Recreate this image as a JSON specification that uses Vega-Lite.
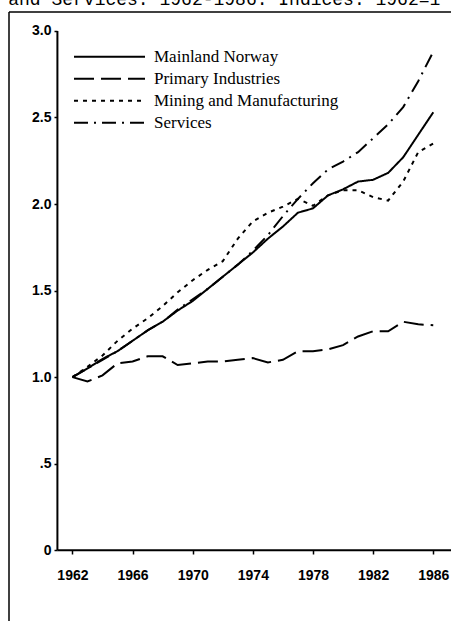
{
  "$schema": "https://vega.github.io/schema/vega-lite/v6.json",
  "width": 451,
  "height": 621,
  "autosize": {"type": "fit", "contains": "padding"},
  "padding": {"left": 8, "top": -9, "right": -27, "bottom": -20},
  "background": "white",
  "title": {
    "text": "and Services. 1962-1986. Indices. 1962=1",
    "anchor": "start",
    "font": "Liberation Mono",
    "fontSize": 18,
    "fontWeight": "normal",
    "color": "black",
    "offset": 2
  },
  "config": {
    "view": {"stroke": null}
  },
  "datasets": {
    "gdp": [
      {"year": 1962, "series": "Mainland Norway", "value": 1.00},
      {"year": 1963, "series": "Mainland Norway", "value": 1.05},
      {"year": 1964, "series": "Mainland Norway", "value": 1.105},
      {"year": 1965, "series": "Mainland Norway", "value": 1.15},
      {"year": 1966, "series": "Mainland Norway", "value": 1.21},
      {"year": 1967, "series": "Mainland Norway", "value": 1.27},
      {"year": 1968, "series": "Mainland Norway", "value": 1.32},
      {"year": 1969, "series": "Mainland Norway", "value": 1.385},
      {"year": 1970, "series": "Mainland Norway", "value": 1.44},
      {"year": 1971, "series": "Mainland Norway", "value": 1.51},
      {"year": 1972, "series": "Mainland Norway", "value": 1.58},
      {"year": 1973, "series": "Mainland Norway", "value": 1.65},
      {"year": 1974, "series": "Mainland Norway", "value": 1.72},
      {"year": 1975, "series": "Mainland Norway", "value": 1.80},
      {"year": 1976, "series": "Mainland Norway", "value": 1.87},
      {"year": 1977, "series": "Mainland Norway", "value": 1.95},
      {"year": 1978, "series": "Mainland Norway", "value": 1.975},
      {"year": 1979, "series": "Mainland Norway", "value": 2.05},
      {"year": 1980, "series": "Mainland Norway", "value": 2.085},
      {"year": 1981, "series": "Mainland Norway", "value": 2.13},
      {"year": 1982, "series": "Mainland Norway", "value": 2.14},
      {"year": 1983, "series": "Mainland Norway", "value": 2.18},
      {"year": 1984, "series": "Mainland Norway", "value": 2.27},
      {"year": 1985, "series": "Mainland Norway", "value": 2.40},
      {"year": 1986, "series": "Mainland Norway", "value": 2.53},
      {"year": 1962, "series": "Primary Industries", "value": 1.00},
      {"year": 1963, "series": "Primary Industries", "value": 0.975},
      {"year": 1964, "series": "Primary Industries", "value": 1.01},
      {"year": 1965, "series": "Primary Industries", "value": 1.08},
      {"year": 1966, "series": "Primary Industries", "value": 1.09},
      {"year": 1967, "series": "Primary Industries", "value": 1.12},
      {"year": 1968, "series": "Primary Industries", "value": 1.12},
      {"year": 1969, "series": "Primary Industries", "value": 1.07},
      {"year": 1970, "series": "Primary Industries", "value": 1.08},
      {"year": 1971, "series": "Primary Industries", "value": 1.09},
      {"year": 1972, "series": "Primary Industries", "value": 1.09},
      {"year": 1973, "series": "Primary Industries", "value": 1.10},
      {"year": 1974, "series": "Primary Industries", "value": 1.11},
      {"year": 1975, "series": "Primary Industries", "value": 1.085},
      {"year": 1976, "series": "Primary Industries", "value": 1.10},
      {"year": 1977, "series": "Primary Industries", "value": 1.15},
      {"year": 1978, "series": "Primary Industries", "value": 1.15},
      {"year": 1979, "series": "Primary Industries", "value": 1.16},
      {"year": 1980, "series": "Primary Industries", "value": 1.185},
      {"year": 1981, "series": "Primary Industries", "value": 1.235},
      {"year": 1982, "series": "Primary Industries", "value": 1.265},
      {"year": 1983, "series": "Primary Industries", "value": 1.265},
      {"year": 1984, "series": "Primary Industries", "value": 1.32},
      {"year": 1985, "series": "Primary Industries", "value": 1.305},
      {"year": 1986, "series": "Primary Industries", "value": 1.30},
      {"year": 1962, "series": "Mining and Manufacturing", "value": 1.00},
      {"year": 1963, "series": "Mining and Manufacturing", "value": 1.06},
      {"year": 1964, "series": "Mining and Manufacturing", "value": 1.125},
      {"year": 1965, "series": "Mining and Manufacturing", "value": 1.21},
      {"year": 1966, "series": "Mining and Manufacturing", "value": 1.28},
      {"year": 1967, "series": "Mining and Manufacturing", "value": 1.34},
      {"year": 1968, "series": "Mining and Manufacturing", "value": 1.41},
      {"year": 1969, "series": "Mining and Manufacturing", "value": 1.49},
      {"year": 1970, "series": "Mining and Manufacturing", "value": 1.56},
      {"year": 1971, "series": "Mining and Manufacturing", "value": 1.62},
      {"year": 1972, "series": "Mining and Manufacturing", "value": 1.67},
      {"year": 1973, "series": "Mining and Manufacturing", "value": 1.80},
      {"year": 1974, "series": "Mining and Manufacturing", "value": 1.90},
      {"year": 1975, "series": "Mining and Manufacturing", "value": 1.95},
      {"year": 1976, "series": "Mining and Manufacturing", "value": 1.985},
      {"year": 1977, "series": "Mining and Manufacturing", "value": 2.03},
      {"year": 1978, "series": "Mining and Manufacturing", "value": 1.99},
      {"year": 1979, "series": "Mining and Manufacturing", "value": 2.05},
      {"year": 1980, "series": "Mining and Manufacturing", "value": 2.08},
      {"year": 1981, "series": "Mining and Manufacturing", "value": 2.08},
      {"year": 1982, "series": "Mining and Manufacturing", "value": 2.04},
      {"year": 1983, "series": "Mining and Manufacturing", "value": 2.02},
      {"year": 1984, "series": "Mining and Manufacturing", "value": 2.13},
      {"year": 1985, "series": "Mining and Manufacturing", "value": 2.30},
      {"year": 1986, "series": "Mining and Manufacturing", "value": 2.35},
      {"year": 1962, "series": "Services", "value": 1.00},
      {"year": 1963, "series": "Services", "value": 1.05},
      {"year": 1964, "series": "Services", "value": 1.10},
      {"year": 1965, "series": "Services", "value": 1.15},
      {"year": 1966, "series": "Services", "value": 1.21},
      {"year": 1967, "series": "Services", "value": 1.27},
      {"year": 1968, "series": "Services", "value": 1.32},
      {"year": 1969, "series": "Services", "value": 1.39},
      {"year": 1970, "series": "Services", "value": 1.45},
      {"year": 1971, "series": "Services", "value": 1.51},
      {"year": 1972, "series": "Services", "value": 1.58},
      {"year": 1973, "series": "Services", "value": 1.65},
      {"year": 1974, "series": "Services", "value": 1.73},
      {"year": 1975, "series": "Services", "value": 1.82},
      {"year": 1976, "series": "Services", "value": 1.93},
      {"year": 1977, "series": "Services", "value": 2.03},
      {"year": 1978, "series": "Services", "value": 2.12},
      {"year": 1979, "series": "Services", "value": 2.20},
      {"year": 1980, "series": "Services", "value": 2.245},
      {"year": 1981, "series": "Services", "value": 2.30},
      {"year": 1982, "series": "Services", "value": 2.38},
      {"year": 1983, "series": "Services", "value": 2.46},
      {"year": 1984, "series": "Services", "value": 2.56},
      {"year": 1985, "series": "Services", "value": 2.71},
      {"year": 1986, "series": "Services", "value": 2.88}
    ]
  },
  "layer": [
    {
      "data": {"values": [{}]},
      "mark": {"type": "rule", "color": "black", "strokeWidth": 1.5},
      "encoding": {
        "x": {"datum": 1957.78, "type": "quantitative"},
        "y": {"datum": -0.5187, "type": "quantitative"},
        "y2": {"datum": 3.1095}
      }
    },
    {
      "data": {"values": [{}]},
      "mark": {"type": "rule", "color": "black", "strokeWidth": 1.5},
      "encoding": {
        "x": {"datum": 1957.78, "type": "quantitative"},
        "x2": {"datum": 1988.91},
        "y": {"datum": 3.1095, "type": "quantitative"}
      }
    },
    {
      "data": {"values": [{}]},
      "mark": {"type": "rule", "color": "black", "strokeWidth": 2},
      "encoding": {
        "x": {"datum": 1961, "type": "quantitative"},
        "y": {"datum": 0, "type": "quantitative"},
        "y2": {"datum": 3.0}
      }
    },
    {
      "data": {"values": [{}]},
      "mark": {"type": "rule", "color": "black", "strokeWidth": 2},
      "encoding": {
        "x": {"datum": 1961, "type": "quantitative"},
        "x2": {"datum": 1988.9},
        "y": {"datum": 0, "type": "quantitative"}
      }
    },
    {
      "data": {"name": "gdp"},
      "mark": {"type": "line", "color": "black", "strokeWidth": 2, "strokeCap": "butt"},
      "encoding": {
        "x": {
          "field": "year",
          "type": "quantitative",
          "scale": {"domain": [1957.78, 1988.91], "nice": false, "zero": false},
          "axis": {
            "orient": "bottom",
            "offset": -90,
            "title": null,
            "domain": false,
            "grid": false,
            "values": [1962, 1963, 1964, 1965, 1966, 1967, 1968, 1969, 1970, 1971, 1972, 1973, 1974, 1975, 1976, 1977, 1978, 1979, 1980, 1981, 1982, 1983, 1984, 1985, 1986],
            "labelExpr": "(datum.value - 1962) % 4 == 0 ? format(datum.value, 'd') : ''",
            "tickSize": 4,
            "tickWidth": 1.5,
            "tickColor": "black",
            "labelFont": "Liberation Sans",
            "labelFontWeight": "bold",
            "labelFontSize": 14,
            "labelColor": "black",
            "labelPadding": 14,
            "labelOverlap": false,
            "labelFlush": false
          }
        },
        "y": {
          "field": "value",
          "type": "quantitative",
          "scale": {"domain": [-0.5187, 3.1095], "nice": false, "zero": false},
          "axis": {
            "orient": "left",
            "offset": -48,
            "title": null,
            "domain": false,
            "grid": false,
            "values": [0, 0.5, 1, 1.5, 2, 2.5, 3],
            "labelExpr": "datum.value == 0 ? '0' : datum.value == 0.5 ? '.5' : format(datum.value, '.1f')",
            "tickSize": 3,
            "tickWidth": 1.5,
            "tickColor": "black",
            "labelFont": "Liberation Sans",
            "labelFontWeight": "bold",
            "labelFontSize": 14,
            "labelColor": "black",
            "labelPadding": 3,
            "labelFlush": false,
            "labelOverlap": false
          }
        },
        "strokeDash": {
          "field": "series",
          "type": "nominal",
          "scale": {
            "domain": ["Mainland Norway", "Primary Industries", "Mining and Manufacturing", "Services"],
            "range": [[1, 0], [20, 7], [4, 5], [14, 6, 2, 6]]
          },
          "legend": {
            "orient": "none",
            "legendX": 64,
            "legendY": 34,
            "title": null,
            "symbolType": "stroke",
            "symbolSize": 5041,
            "symbolStrokeWidth": 2,
            "symbolStrokeColor": "black",
            "clipHeight": 21.7,
            "rowPadding": 0,
            "labelFont": "Liberation Serif",
            "labelFontSize": 17,
            "labelColor": "black",
            "labelOffset": 8,
            "labelLimit": 400
          }
        }
      }
    }
  ]
}
